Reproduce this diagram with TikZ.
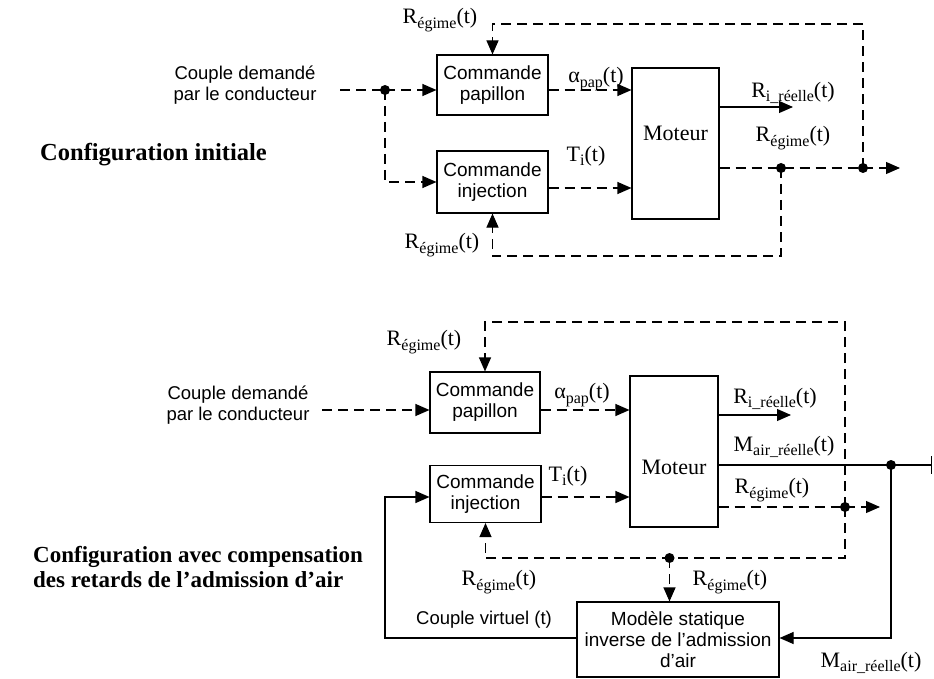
\documentclass[tikz,border=0pt]{standalone}
\usepackage{fontspec}
\setmainfont{Liberation Serif}
\setsansfont{Liberation Sans}
\usetikzlibrary{arrows.meta}
\newcommand{\sbs}[1]{\raisebox{-4.5pt}{\fontsize{16}{16}\selectfont #1}}
\begin{document}
\begin{tikzpicture}[x=1pt,y=-1pt,
  blk/.style={draw,line width=1.1pt,font=\sffamily\fontsize{19}{21}\selectfont,align=center,inner sep=0pt},
  lab/.style={font=\fontsize{22}{24}\selectfont,inner sep=0pt},
  stxt/.style={font=\sffamily\fontsize{18.5}{21}\selectfont,align=center,inner sep=0pt},
  ttl/.style={font=\bfseries\fontsize{23}{25}\selectfont,align=left,inner sep=0pt,anchor=west},
  jdot/.style={circle,fill,inner sep=0pt,minimum size=10pt},
  ln/.style={line width=1.1pt},
  dsh/.style={ln,dash pattern=on 10pt off 6pt},
  arr/.style={-{Triangle[length=14pt,width=12pt]}},
]
\useasboundingbox (0,0) rectangle (934,679);

% ---------------- top diagram ----------------
\node[ttl,font=\bfseries\fontsize{24.5}{26}\selectfont] (t1) at (40,155) {Configuration initiale};
\node[stxt] (in1) at (245,85) {Couple demandé\\par le conducteur};
\node[blk,minimum width=111pt,minimum height=60pt] (pap1) at (492.5,85) {Commande\\papillon};
\node[blk,minimum width=111pt,minimum height=62pt] (inj1) at (492.5,182) {Commande\\injection};
\node[blk,minimum width=87pt,minimum height=151pt] (mot1) at (675.5,143.5) {};
\node[lab] (mt1) at (675.5,133) {Moteur};
\node[jdot] (d1) at (385,90) {};
\node[jdot] (d2) at (781,168) {};
\node[jdot] (d3) at (863,168) {};
\coordinate (s1) at (340,90);
\coordinate (e1) at (793,107);
\coordinate (e2) at (900,168);

\draw[dsh] (s1) -- (d1.center);
\draw[dsh,arr] (d1.center) -- (pap1.west |- d1);
\draw[dsh,arr] (d1.center) |- (inj1.west);
\draw[dsh,arr] (pap1.east |- d1) -- (mot1.west |- d1);
\draw[dsh,arr] (inj1.east |- 0,188) -- (mot1.west |- 0,188);
\draw[ln,arr] (mot1.east |- e1) -- (e1);
\draw[dsh] (mot1.east |- d2) -- (d2.center) -- (d3.center);
\draw[dsh,arr] (d3.center) -- (e2);
\draw[dsh,arr] (d3.center) |- (pap1.north |- 0,24) -- (pap1.north);
\draw[dsh,arr] (d2.center) |- (inj1.south |- 0,256) -- (inj1.south);

\node[lab] at (440,20) {R\sbs{égime}(t)};
\node[lab] at (596,79) {α\sbs{pap}(t)};
\node[lab] at (586,156) {T\sbs{i}(t)};
\node[lab] at (793,93) {R\sbs{i\_réelle}(t)};
\node[lab] at (793,138) {R\sbs{égime}(t)};
\node[lab] at (442,245) {R\sbs{égime}(t)};

% ---------------- bottom diagram ----------------
\node[ttl] (t2) at (33,567) {Configuration avec compensation\\des retards de l’admission d’air};
\node[stxt] (in2) at (238,405) {Couple demandé\\par le conducteur};
\node[blk,minimum width=110pt,minimum height=61pt] (pap2) at (485,402.5) {Commande\\papillon};
\node[blk,minimum width=111pt,minimum height=57pt] (inj2) at (485.5,494) {Commande\\injection};
\node[blk,minimum width=88pt,minimum height=151pt] (mot2) at (674,451.5) {};
\node[lab] (mt2) at (674,467) {Moteur};
\node[blk,minimum width=202pt,minimum height=75pt] (mod) at (678,639.5) {Modèle statique\\inverse de l\char39 admission\\d\char39 air};
\node[jdot] (d4) at (845,507) {};
\node[jdot] (d5) at (891,465) {};
\node[jdot] (d6) at (669.5,558) {};
\coordinate (s2) at (322,410);
\coordinate (e3) at (791,415);
\coordinate (e4) at (932,465);
\coordinate (e5) at (880,507);
\coordinate (cv) at (385,638);

\draw[dsh,arr] (s2) -- (pap2.west |- s2);
\draw[dsh,arr] (pap2.east |- s2) -- (mot2.west |- s2);
\draw[dsh,arr] (inj2.east |- 0,497) -- (mot2.west |- 0,497);
\draw[ln,arr] (mot2.east |- e3) -- (e3);
\draw[ln,-{Bar[width=18pt]}] (mot2.east |- d5) -- (d5.center) -- (e4);
\draw[dsh] (mot2.east |- d4) -- (d4.center);
\draw[dsh,arr] (d4.center) -- (e5);
\draw[dsh,arr] (d4.center) |- (pap2.north |- 0,322) -- (pap2.north);
\draw[dsh,arr] (d4.center) |- (inj2.south |- 0,558) -- (inj2.south);
\draw[dsh,arr] (d6.center) -- (d6 |- mod.north);
\draw[ln,arr] (d5.center) |- (mod.east |- cv);
\draw[ln,arr] (mod.west |- cv) -- (cv) |- (inj2.west |- 0,497);

\node[lab] at (424,342) {R\sbs{égime}(t)};
\node[lab] at (582,395) {α\sbs{pap}(t)};
\node[lab] at (568,476) {T\sbs{i}(t)};
\node[lab] at (775,399) {R\sbs{i\_réelle}(t)};
\node[lab] at (784,447) {M\sbs{air\_réelle}(t)};
\node[lab] at (772,490) {R\sbs{égime}(t)};
\node[lab] at (499,582) {R\sbs{égime}(t)};
\node[lab] at (730,582) {R\sbs{égime}(t)};
\node[lab] at (871,663) {M\sbs{air\_réelle}(t)};
\node[stxt] at (484,620) {Couple virtuel (t)};
\end{tikzpicture}
\end{document}
